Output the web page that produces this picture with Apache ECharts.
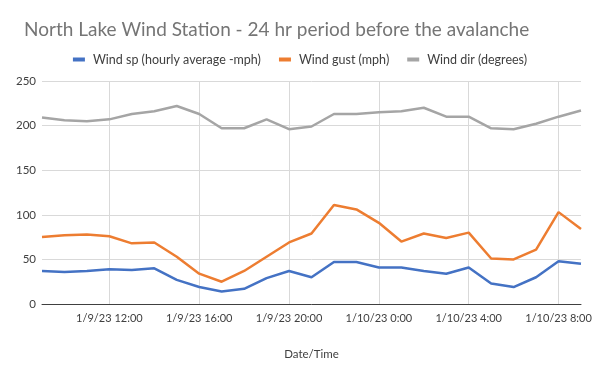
<!DOCTYPE html>
<html><head><meta charset="utf-8">
<script src="https://cdn.jsdelivr.net/npm/echarts@6/dist/echarts.min.js"></script>
<style>html,body{margin:0;padding:0;background:#fff}#c{width:600px;height:371px}</style>
</head><body><div id="c"></div>
<script>
const categories = [
  "1/9/23 9:00","1/9/23 10:00","1/9/23 11:00","1/9/23 12:00","1/9/23 13:00","1/9/23 14:00",
  "1/9/23 15:00","1/9/23 16:00","1/9/23 17:00","1/9/23 18:00","1/9/23 19:00","1/9/23 20:00",
  "1/9/23 21:00","1/9/23 22:00","1/9/23 23:00","1/10/23 0:00","1/10/23 1:00","1/10/23 2:00",
  "1/10/23 3:00","1/10/23 4:00","1/10/23 5:00","1/10/23 6:00","1/10/23 7:00","1/10/23 8:00",
  "1/10/23 9:00"
];
const labeledTicks = ["1/9/23 12:00","1/9/23 16:00","1/9/23 20:00","1/10/23 0:00","1/10/23 4:00","1/10/23 8:00"];
const windSpeed = [37,36,37,39,38,40,27,19,14,17,29,37,30,47,47,41,41,37,34,41,23,19,30,48,45];
const windGust  = [75,77,78,76,68,69,53,34,25,37,53,69,79,111,106,91,70,79,74,80,51,50,61,103,84];
const windDir   = [209,206,205,207,213,216,222,213,197,197,207,196,199,213,213,215,216,220,210,210,197,196,202,210,217];
const seriesNames = ["Wind sp (hourly average -mph)","Wind gust (mph)","Wind dir (degrees)"];

const isLabeled = (i, v) => labeledTicks.indexOf(v) >= 0;
const chart = echarts.init(document.getElementById('c'), null, {renderer:'canvas'});
const font = 'Lato, "Open Sans", sans-serif';
chart.setOption({
  animation: false,
  color: ['#4472C4','#ED7D31','#A5A5A5'],
  title: {
    text: 'North Lake Wind Station - 24 hr period before the avalanche',
    left: 19, top: 15,
    textStyle: {fontFamily: font, fontSize: 19, fontWeight: 'normal', color: '#757575'}
  },
  legend: {
    top: 48, left: 'center', itemWidth: 12, itemHeight: 4, itemGap: 18, icon: 'rect',
    textStyle: {fontFamily: font, fontSize: 12.5, color: '#404040', padding: [0,0,0,3]},
    data: seriesNames
  },
  grid: {left: 42, right: 19, top: 81, bottom: 67, containLabel: false},
  xAxis: {
    type: 'category', data: categories, boundaryGap: false,
    name: 'Date/Time', nameLocation: 'middle', nameGap: 44,
    nameTextStyle: {fontFamily: font, fontSize: 11.5, color: '#404040'},
    axisLine: {lineStyle: {color: '#404040', width: 1}},
    axisTick: {show: false},
    axisLabel: {interval: isLabeled, fontFamily: font, fontSize: 11, color: '#404040', margin: 9},
    splitLine: {show: true, interval: isLabeled, lineStyle: {color: '#d9d9d9', width: 1}}
  },
  yAxis: {
    type: 'value', min: 0, max: 250, interval: 50,
    axisLine: {show: false}, axisTick: {show: false},
    axisLabel: {fontFamily: font, fontSize: 11.5, color: '#404040', margin: 6},
    splitLine: {lineStyle: {color: '#d9d9d9', width: 1}}
  },
  series: [
    {name: seriesNames[0], type: 'line', data: windSpeed, showSymbol: false, lineStyle: {width: 2.5}},
    {name: seriesNames[1], type: 'line', data: windGust, showSymbol: false, lineStyle: {width: 2.5}},
    {name: seriesNames[2], type: 'line', data: windDir, showSymbol: false, lineStyle: {width: 2.5}}
  ]
});
</script></body></html>
